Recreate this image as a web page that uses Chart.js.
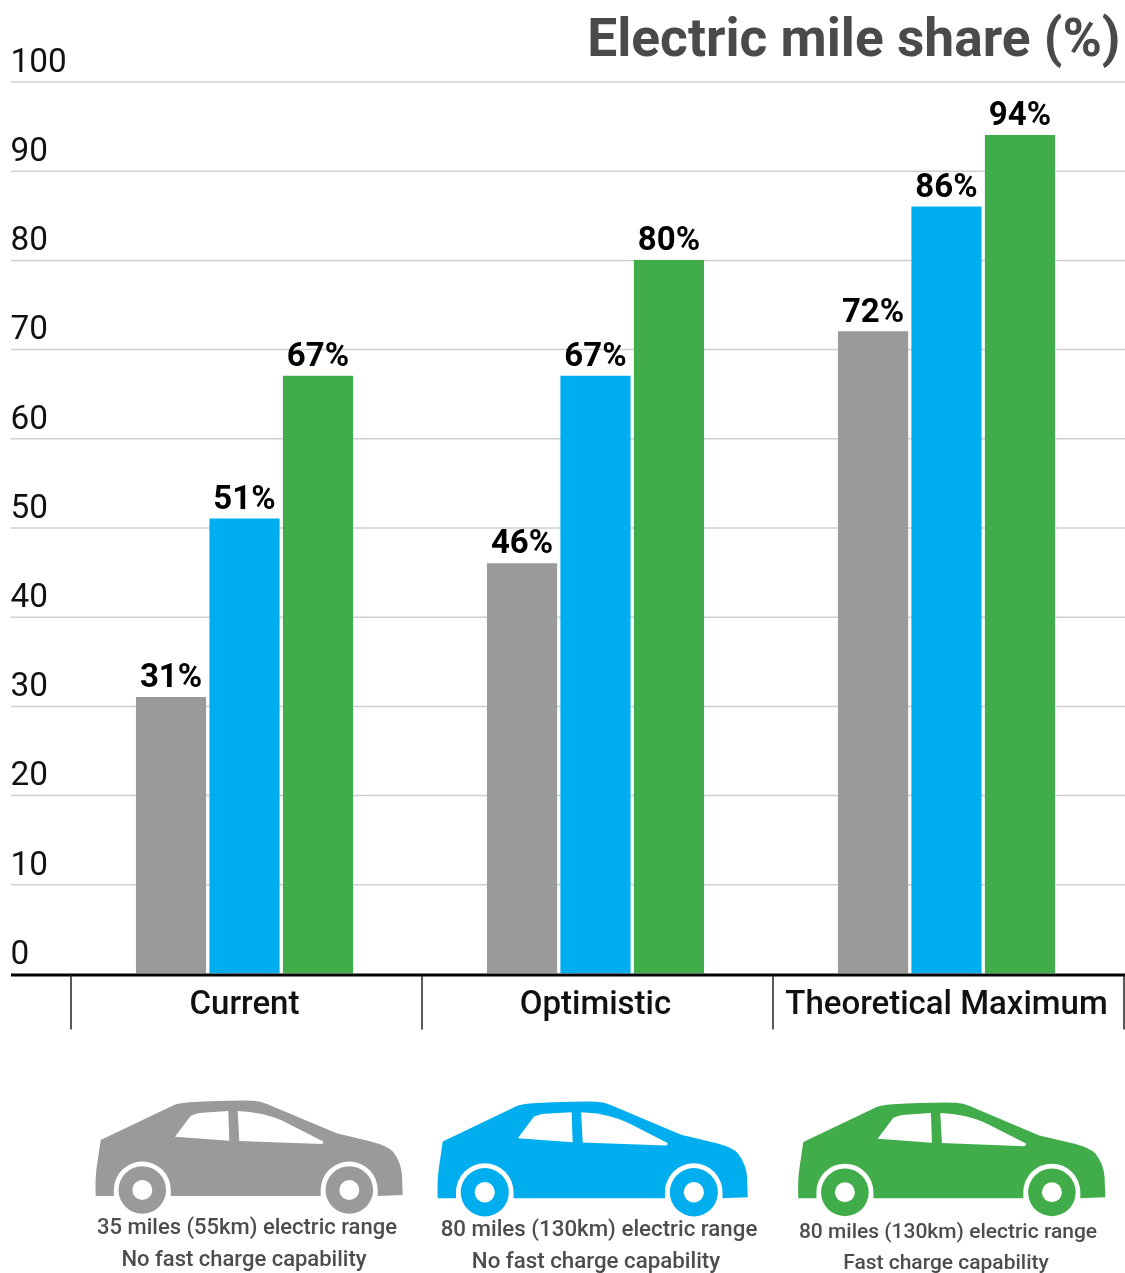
<!DOCTYPE html>
<html><head><meta charset="utf-8">
<style>html,body{margin:0;padding:0;background:#fff;overflow:hidden}#w{position:relative;width:1125px;height:1273px}</style>
<script src="https://cdn.jsdelivr.net/npm/chart.js@4"></script>
</head><body><div id="w"><canvas id="c" width="1125" height="1273"></canvas></div>
<script>
const categories = ['Current','Optimistic','Theoretical Maximum'];
const shortRange = [31,46,72];
const longRange = [51,67,86];
const longRangeFast = [67,80,94];
const yTicks = [0,10,20,30,40,50,60,70,80,90,100];
const titleText = 'Electric mile share (%)';
const seriesColors = ['#9a9a9a','#00aeef','#40ad4a'];
const seriesNames = ['35 miles, no fast charge','80 miles, no fast charge','80 miles, fast charge'];
const captions = [
  ['35 miles (55km) electric range','No fast charge capability'],
  ['80 miles (130km) electric range','No fast charge capability'],
  ['80 miles (130km) electric range','Fast charge capability']
];
const FONT='Roboto, sans-serif';

const carBody = new Path2D('M100.7 1140 L173 1105.5 Q178 1103 190 1102.3 Q225 1100.2 253 1100.7 Q261 1101 267 1104 L336.7 1133.3 L372 1141.7 Q388 1146 393 1151.7 Q401 1162 402 1175 L402.7 1195 L377.7 1196 L377.7 1190 A28.5 28.5 0 0 0 320.7 1190 L320.7 1196 L170.8 1196 L170.8 1190 A28.5 28.5 0 0 0 113.8 1190 L113.8 1196 L95.7 1196 Q95 1180 96.7 1167 Z');
const winRear = new Path2D('M175 1136.7 L190 1116.7 Q194 1113.5 202 1112.7 L228.3 1111 L229.3 1140.7 Z');
const winFront = new Path2D('M237.7 1111 Q250 1111.5 262 1114 Q275 1117 285 1122 L323.3 1141.5 Q324 1143 321.7 1144 L239.3 1141 Z');
const wheels = [[142.3,1190],[349.3,1190]];
const carPlace = [
  {dx:95.7,dy:1100.7,sx:1,sy:1},
  {dx:437.7,dy:1101.7,sx:1.01,sy:1.014},
  {dx:798.3,dy:1102.7,sx:1.0,sy:1.003}
];
const capPos = [
  {x:[247,244],y:[1228,1260],size:22.0},
  {x:[599,596],y:[1230,1262],size:22.3},
  {x:[948,946],y:[1233,1264],size:21.0}
];

const deco = {
  id:'deco',
  beforeDraw(ch){
    const {ctx}=ch; ctx.save(); ctx.fillStyle='#fff'; ctx.fillRect(0,0,ch.width,ch.height);
    ctx.font='700 53.3px '+FONT; ctx.fillStyle='#4a4a4a'; ctx.textAlign='right'; ctx.textBaseline='middle';
    ctx.fillText(titleText,1120.5,43);
    ctx.restore();
  },
  beforeDatasetsDraw(ch){
    const {ctx,scales:{y}}=ch;
    ctx.save(); ctx.strokeStyle='#cfcfcf'; ctx.lineWidth=1.5;
    y.ticks.forEach(t=>{ if(t.value===0) return;
      const p=y.getPixelForValue(t.value)+0.5;
      ctx.beginPath(); ctx.moveTo(11,p); ctx.lineTo(1125,p); ctx.stroke(); });
    ctx.restore();
  },
  afterDatasetsDraw(ch){
    const {ctx,scales:{x,y}}=ch;
    ctx.save();
    ctx.font='700 33px '+FONT; ctx.fillStyle='#000'; ctx.textAlign='center'; ctx.textBaseline='middle';
    ch.data.datasets.forEach((ds,i)=>{
      ch.getDatasetMeta(i).data.forEach((b,j)=>{
        ctx.fillText(ds.data[j]+'%',b.x,b.y-18);
      });
    });
    const base=y.getPixelForValue(0);
    ctx.strokeStyle='#000'; ctx.lineWidth=3; ctx.beginPath(); ctx.moveTo(11,base+1.5); ctx.lineTo(1125,base+1.5); ctx.stroke();
    const step=x.getPixelForValue(1)-x.getPixelForValue(0);
    ctx.strokeStyle='#222'; ctx.lineWidth=1.5;
    for(let i=0;i<=categories.length;i++){
      const px=x.getPixelForValue(0)-step/2+step*i+2;
      ctx.beginPath(); ctx.moveTo(px,base+1.5); ctx.lineTo(px,base+56); ctx.stroke();
    }
    carPlace.forEach((c,i)=>{
      ctx.save();
      ctx.translate(c.dx,c.dy);ctx.scale(c.sx,c.sy);ctx.translate(-95.7,-1100.7);
      ctx.fillStyle=seriesColors[i];
      ctx.fill(carBody);
      ctx.fillStyle='#fff'; ctx.fill(winRear); ctx.fill(winFront);
      wheels.forEach(([wx,wy])=>{
        ctx.fillStyle=seriesColors[i]; ctx.beginPath(); ctx.arc(wx,wy,23.8,0,Math.PI*2); ctx.fill();
        ctx.fillStyle='#fff'; ctx.beginPath(); ctx.arc(wx,wy,10,0,Math.PI*2); ctx.fill();
      });
      ctx.restore();
    });
    ctx.fillStyle='#4d4d4d'; ctx.textBaseline='middle'; ctx.textAlign='center';
    captions.forEach((lines,i)=>lines.forEach((t,k)=>{
      ctx.font='500 '+capPos[i].size+'px '+FONT;
      ctx.fillText(t,capPos[i].x[k],capPos[i].y[k]);
    }));
    ctx.restore();
  }
};

new Chart(document.getElementById('c'),{
  type:'bar',
  data:{labels:categories,datasets:[shortRange,longRange,longRangeFast].map((d,i)=>({
    label:seriesNames[i],data:d,backgroundColor:seriesColors[i],borderWidth:0,
    categoryPercentage:0.628,barPercentage:0.955}))},
  options:{
    responsive:false,animation:false,devicePixelRatio:1,
    layout:{padding:{left:10.5,right:3,top:81.5,bottom:243.5}},
    plugins:{legend:{display:false},tooltip:{enabled:false},title:{display:false}},
    scales:{
      x:{offset:true,grid:{display:false},border:{display:false},
        afterFit(s){s.height=56;},
        ticks:{color:'#111',font:{family:FONT,size:33,weight:'500'},padding:4.5,maxRotation:0,autoSkip:false}},
      y:{min:0,max:100,afterFit(s){s.width=58.5;},
        afterBuildTicks(s){s.ticks=yTicks.map(v=>({value:v}));},
        grid:{display:false},border:{display:false},
        ticks:{color:'#111',font:{family:FONT,size:33.3,weight:'400'},crossAlign:'far',padding:0,labelOffset:-18,
          callback:v=>String(v)}}
    }
  },
  plugins:[deco]
});
</script></body></html>
